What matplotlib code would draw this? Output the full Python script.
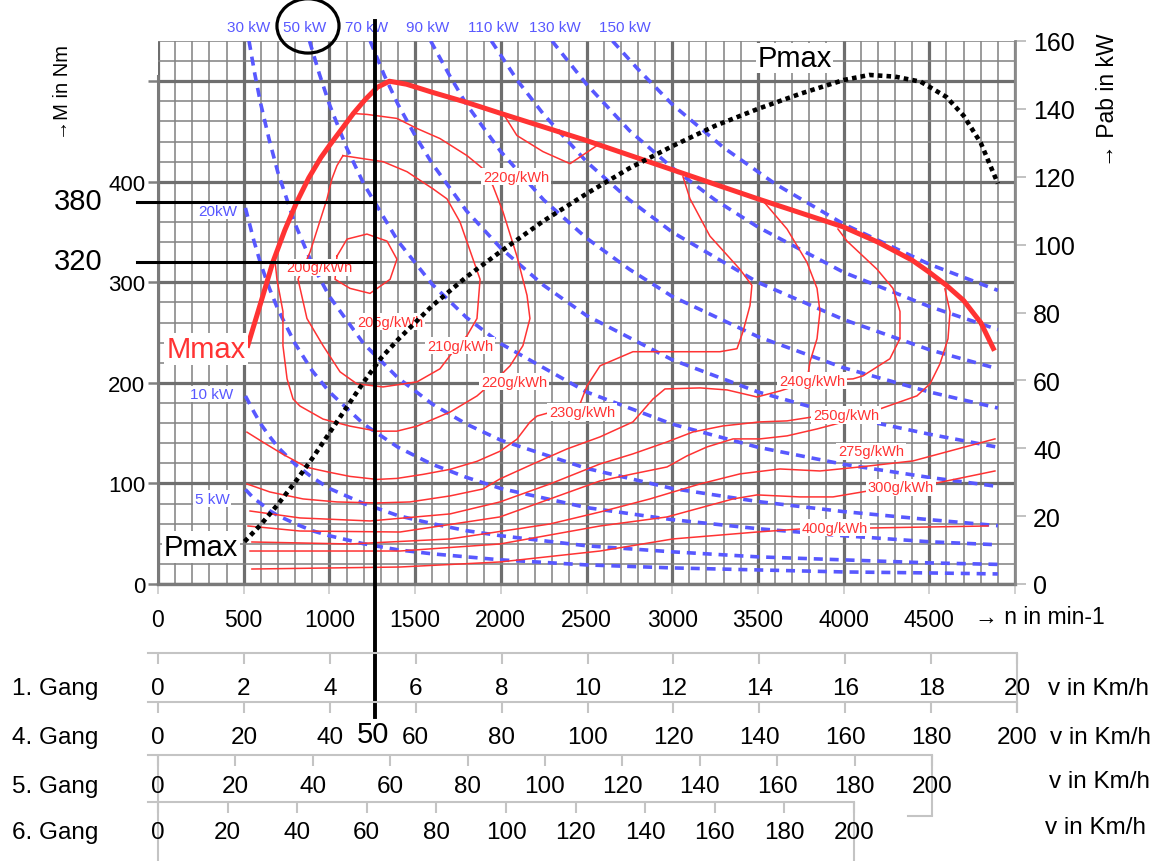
import numpy as np
import matplotlib
matplotlib.use('Agg')
import matplotlib.pyplot as plt
from matplotlib.patches import Ellipse

plt.rcParams['font.family'] = ['Liberation Sans', 'DejaVu Sans']

# ---------------- data ----------------
rpm_ticks = [0, 500, 1000, 1500, 2000, 2500, 3000, 3500, 4000, 4500, 5000]
rpm_labels = ['0', '500', '1000', '1500', '2000', '2500', '3000', '3500', '4000', '4500', '']
torque_ticks = [0, 100, 200, 300, 400, 500]
torque_labels = ['0', '100', '200', '300', '400', '']
power_ticks = [0, 20, 40, 60, 80, 100, 120, 140, 160]

# full load torque curve (Mmax)
mmax_n = [520, 600, 670, 740, 810, 880, 950, 1000, 1070, 1140, 1210, 1280, 1350, 1450, 1600, 1800,
          2000, 2500, 3000, 3500, 4000, 4200, 4400, 4500, 4600, 4700, 4800, 4880]
mmax_M = [235, 280, 320, 352, 380, 404, 424, 436, 452, 468, 482, 494, 500, 497, 489, 479,
          468, 441, 412, 383, 355, 340, 322, 310, 297, 282, 260, 232]

# full load power curve (Pmax, kW)
pmax_n = [505, 600, 700, 800, 900, 1000, 1100, 1200, 1300, 1400, 1600, 1800, 2000, 2250, 2500, 2750,
          3000, 3250, 3500, 3750, 4000, 4150, 4300, 4450, 4600, 4700, 4800, 4900]
pmax_P = [12.5, 17.5, 23.5, 30, 37, 44.5, 52, 59.5, 66.5, 72, 82, 90.5, 98, 107, 115, 122.5,
          129, 135, 140, 144.5, 148.5, 150, 149.5, 148, 143.5, 138, 130, 118]

# constant power lines (kW): rpm / torque points
kw5_n = [510, 560, 600, 650, 700, 800, 900, 1000, 1200, 1400, 1600, 1800, 2000, 2500, 3000, 3500, 4000, 4500, 4900]
kw5_M = [94, 85, 80, 73, 68, 60, 53, 48, 40, 34, 30, 27, 24, 19, 16, 14, 12, 11, 10]
kw10_n = [510, 560, 600, 650, 700, 800, 900, 1000, 1200, 1400, 1600, 1800, 2000, 2500, 3000, 3500, 4000, 4500, 4900]
kw10_M = [187, 171, 159, 147, 136, 119, 106, 95, 80, 68, 60, 53, 48, 38, 32, 27, 24, 21, 19.5]
kw20_n = [510, 560, 600, 650, 700, 800, 900, 1000, 1200, 1400, 1600, 1800, 2000, 2500, 3000, 3500, 4000, 4500, 4900]
kw20_M = [374, 341, 318, 294, 273, 239, 212, 191, 159, 136, 119, 106, 95, 76, 64, 55, 48, 42, 39]
kw30_n = [531, 565, 600, 650, 700, 800, 900, 1000, 1200, 1400, 1600, 1800, 2000, 2500, 3000, 3500, 4000, 4500, 4900]
kw30_M = [540, 507, 477, 441, 409, 358, 318, 286, 239, 205, 179, 159, 143, 115, 95, 82, 72, 64, 58]
kw50_n = [884, 940, 1000, 1100, 1200, 1400, 1600, 1800, 2000, 2500, 3000, 3500, 4000, 4500, 4900]
kw50_M = [540, 508, 477, 434, 398, 341, 298, 265, 239, 191, 159, 136, 119, 106, 97]
kw70_n = [1238, 1320, 1400, 1500, 1600, 1800, 2000, 2250, 2500, 3000, 3500, 4000, 4500, 4900]
kw70_M = [540, 506, 477, 446, 418, 371, 334, 297, 267, 223, 191, 167, 149, 136]
kw90_n = [1591, 1700, 1800, 2000, 2250, 2500, 2750, 3000, 3500, 4000, 4500, 4900]
kw90_M = [540, 506, 477, 430, 382, 344, 313, 286, 246, 215, 191, 175]
kw110_n = [1945, 2100, 2250, 2500, 2750, 3000, 3500, 4000, 4500, 4900]
kw110_M = [540, 500, 467, 420, 382, 350, 300, 263, 233, 214]
kw130_n = [2299, 2500, 2750, 3000, 3250, 3500, 4000, 4500, 4900]
kw130_M = [540, 497, 451, 414, 382, 355, 310, 276, 253]
kw150_n = [2652, 2800, 3000, 3300, 3600, 4000, 4500, 4900]
kw150_M = [540, 512, 477, 434, 398, 358, 318, 292]

kw_top_labels = ['30 kW', '50 kW', '70 kW', '90 kW', '110 kW', '130 kW', '150 kW']
kw_top_n = [531, 858, 1219, 1575, 1954, 2316, 2724]
kw_in_labels = ['20kW', '10 kW', '5 kW']
kw_in_n = [350, 315, 315]
kw_in_M = [371, 189, 85]

# fuel consumption contours (g/kWh): rpm / torque points
be200_n = [1044, 1103, 1219, 1336, 1394, 1354, 1237, 1120, 1033, 1044]
be200_M = [326, 343, 348, 341, 323, 303, 289, 294, 303, 326]
be210_n = [1079, 1313, 1453, 1604, 1686, 1762, 1879, 1861, 1803, 1721, 1645, 1511, 1313, 1161, 1062,
           963, 869, 817, 887, 986, 1015, 1044, 1079]
be210_M = [426, 420, 410, 393, 383, 360, 303, 264, 247, 231, 214, 201, 196, 199, 211,
           237, 264, 303, 330, 383, 403, 416, 426]
be220_n = [683, 694, 729, 729, 753, 788, 828, 963, 1120, 1278, 1394, 1511, 1704, 1861, 1995, 2054,
           2129, 2170, 2153, 2094, 2013, 1954, 1896, 1803, 1645, 1511, 1394, 1219, 1132]
be220_M = [321, 303, 271, 237, 204, 184, 177, 164, 157, 152, 152, 157, 171, 187, 207, 217,
           237, 264, 287, 326, 370, 396, 413, 426, 443, 453, 463, 467, 468]
be220b_n = [2013, 2094, 2246, 2404, 2561]
be220b_M = [468, 446, 430, 418, 436]
be230_n = [3063, 3104, 3220, 3395, 3465, 3454, 3413, 3378, 3279, 2970, 2771, 2579, 2503, 2462, 2211,
           2170, 2094, 1995, 1861, 1704, 1546, 1394, 1278, 1120, 1003, 869, 729, 613, 519]
be230_M = [405, 383, 346, 313, 297, 277, 251, 234, 231, 231, 231, 217, 197, 179, 167,
           161, 144, 132, 122, 114, 109, 105, 104, 107, 111, 116, 129, 141, 151]
be240_n = [519, 653, 846, 1044, 1278, 1470, 1704, 1896, 1995, 2188, 2386, 2579, 2771, 2888, 2958,
           3162, 3320, 3495, 3629, 3815, 4055, 4113, 4270, 4329, 4329, 4288, 4195, 4020, 3967]
be240_M = [99.5, 91.5, 84.6, 81.6, 80.6, 81.6, 87.6, 94.5, 104.5, 119.4, 134.3, 146.3, 161.2, 184, 194,
           195, 193, 186, 192, 202, 204, 207, 224, 244, 271, 294, 313, 341, 353]
be240b_n = [3530, 3670, 3786, 3845, 3862, 3845, 3804, 3792]
be240b_M = [381, 353, 320, 294, 271, 244, 221, 208]
be250_n = [537, 828, 1237, 1704, 1995, 2287, 2579, 2771, 2970, 3121, 3296, 3512, 3670, 3821, 4014,
           4212, 4428, 4504, 4562, 4609, 4621, 4591]
be250_M = [72.6, 65.7, 62.7, 69.7, 81.6, 99.5, 119.4, 129.4, 141.3, 151.2, 157.2, 161.2, 162.2, 166.2, 168,
           174.1, 187.1, 199, 218.9, 243.8, 270.6, 293.5]
be250b_n = [525, 828, 1412, 1995, 2287, 2579, 2771, 2970, 3086, 3203, 3355, 3512, 3670, 3845, 3979]
be250b_M = [57.7, 52.7, 51.7, 66.7, 84.6, 102.5, 109.5, 116.4, 127.4, 136.3, 144.3, 144.3, 147.3, 154.2, 160.2]
be275_n = [548, 1120, 1704, 2287, 2579, 2870, 3162, 3395, 3629, 3862, 4095, 4405, 4621, 4883]
be275_M = [41.8, 39.8, 44.8, 59.7, 71.6, 84.6, 99.5, 109.5, 114.4, 112.4, 116.4, 122.4, 132.3, 144.3]
be300_n = [537, 1412, 1995, 2579, 2970, 3355, 3495, 3745, 3938, 4142, 4335, 4545, 4883]
be300_M = [32.8, 32.8, 39.8, 57.7, 66.7, 84.6, 88.6, 86.6, 86.6, 92.5, 95.5, 100.5, 112.4]
be400_n = [548, 1412, 1995, 2579, 3004, 3495, 3745, 3950, 4154, 4842]
be400_M = [14.9, 16.9, 21.9, 32.8, 44.8, 51.7, 54.7, 55.7, 55.7, 57.7]

be_labels = ['200g/kWh', '205g/kWh', '210g/kWh', '220g/kWh', '220g/kWh', '230g/kWh',
             '240g/kWh', '250g/kWh', '275g/kWh', '300g/kWh', '400g/kWh']
be_label_n = [939, 1353, 1762, 2089, 2077, 2474, 3815, 4014, 4160, 4335, 3950]
be_label_M = [315, 261, 237, 405, 201, 171, 202, 168, 132, 96, 56]

# reading example: 50 km/h in 4th gear
n_50 = 1266
m_lines = [380, 320]

gear_names = ['1. Gang', '4. Gang', '5. Gang', '6. Gang']
gear1_ticks = [0, 2, 4, 6, 8, 10, 12, 14, 16, 18, 20]
gear4_ticks = [0, 20, 40, 60, 80, 100, 120, 140, 160, 180, 200]
gear5_ticks = [0, 20, 40, 60, 80, 100, 120, 140, 160, 180, 200]
gear6_ticks = [0, 20, 40, 60, 80, 100, 120, 140, 160, 180, 200]

# ---------------- figure ----------------
W, H = 1165, 862
fig = plt.figure(figsize=(W / 100, H / 100), dpi=100)


def box(x0, y0, x1, y1):
    return [x0 / W, 1 - y1 / H, (x1 - x0) / W, (y1 - y0) / H]


RED = '#ff3333'
BLUE = '#5858ff'
GRIDMIN = '#858585'
GRIDMAJ = '#6e6e6e'

ax = fig.add_axes(box(158, 42, 1015, 585))
ax.set_xlim(0, 5000)
ax.set_ylim(0, 540)
ax.set_xticks(rpm_ticks)
ax.set_xticklabels(rpm_labels, fontsize=16.5)
ax.set_xticks(np.arange(0, 5001, 100), minor=True)
ax.set_yticks(torque_ticks)
ax.set_yticklabels(torque_labels, fontsize=16)
ax.set_yticks(np.arange(0, 541, 20), minor=True)
ax.grid(which='minor', color=GRIDMIN, lw=1.15)
ax.grid(which='major', color=GRIDMAJ, lw=2.3)
ax.set_axisbelow(True)
ax.tick_params(axis='x', which='major', length=7, width=1.2, color='#c8c8c8', pad=10)
ax.tick_params(axis='y', which='major', length=7, width=1.8, color='#808080', pad=2)
ax.tick_params(which='minor', length=0)
for s in ['top', 'right']:
    ax.spines[s].set_visible(False)
ax.spines['left'].set_color('#7a7a7a')
ax.spines['left'].set_linewidth(2.2)
ax.spines['left'].set_bounds(0, 505)
ax.spines['bottom'].set_color('#7a7a7a')
ax.spines['bottom'].set_linewidth(2.4)

ax2 = ax.twinx()
ax2.set_ylim(0, 160)
ax2.set_yticks(power_ticks)
ax2.set_yticklabels([str(v) for v in power_ticks], fontsize=18)
ax2.tick_params(axis='y', length=8, width=1.2, color='#b8b8b8', pad=5)
for s in ['top', 'left', 'bottom']:
    ax2.spines[s].set_visible(False)
ax2.spines['right'].set_color('#8a8a8a')
ax2.spines['right'].set_linewidth(2.0)

# constant power lines
dash = (0, (2.5, 1.9))
for nn, mm in [(kw5_n, kw5_M), (kw10_n, kw10_M), (kw20_n, kw20_M), (kw30_n, kw30_M),
               (kw50_n, kw50_M), (kw70_n, kw70_M), (kw90_n, kw90_M), (kw110_n, kw110_M),
               (kw130_n, kw130_M), (kw150_n, kw150_M)]:
    ax.plot(nn, mm, color=BLUE, lw=2.6, linestyle=dash, zorder=3)

# fuel consumption contours
for nn, mm in [(be200_n, be200_M), (be210_n, be210_M), (be220_n, be220_M),
               (be220b_n, be220b_M), (be230_n, be230_M), (be240_n, be240_M), (be240b_n, be240b_M),
               (be250_n, be250_M), (be250b_n, be250b_M), (be275_n, be275_M), (be300_n, be300_M),
               (be400_n, be400_M)]:
    ax.plot(nn, mm, color=RED, lw=1.1, zorder=4)

# full load torque
ax.plot(mmax_n, mmax_M, color=RED, lw=3.6, solid_capstyle='butt', solid_joinstyle='round', zorder=5)
# full load power (right axis)
ax2.plot(pmax_n, pmax_P, color='black', lw=3.3, linestyle=(0, (1.0, 0.9)), zorder=6)

# labels
lab_kw = dict(fontsize=10.5, color=RED, ha='center', va='center', zorder=8,
              bbox=dict(facecolor='white', edgecolor='none', pad=1.2))
for t, nn, mm in zip(be_labels, be_label_n, be_label_M):
    ax.text(nn, mm, t, **lab_kw)

# reading lines (on top of labels)
ax.plot([n_50, n_50], [-132, 560], color='black', lw=2.8, clip_on=False, zorder=10)
for m in m_lines:
    ax.plot([-122, n_50], [m, m], color='black', lw=2.2, clip_on=False, zorder=10)
    ax.text(-465, m + 1, str(m), fontsize=21, ha='center', va='center', zorder=10)

for t, nn in zip(kw_top_labels, kw_top_n):
    ax.text(nn, 554, t, fontsize=11, color=BLUE, ha='center', va='center', clip_on=False)
for t, nn, mm in zip(kw_in_labels, kw_in_n, kw_in_M):
    ax.text(nn, mm, t, fontsize=11, color=BLUE, ha='center', va='center', zorder=9,
            bbox=dict(facecolor='white', edgecolor='none', pad=1.0))

ax.text(280, 234, 'Mmax', fontsize=21, color=RED, ha='center', va='center', zorder=9,
        bbox=dict(facecolor='white', edgecolor='none', pad=1.5))
ax2.text(250, 11, 'Pmax', fontsize=21, color='black', ha='center', va='center', zorder=9,
         bbox=dict(facecolor='white', edgecolor='none', pad=1.5))
ax2.text(3715, 155, 'Pmax', fontsize=21, color='black', ha='center', va='center', zorder=9,
         bbox=dict(facecolor='white', edgecolor='none', pad=1.0))

ax.add_patch(Ellipse((875, 555), 362, 54, fill=False, edgecolor='black', lw=2.3,
                     clip_on=False, zorder=9))

fig.text(1108 / W, 1 - 100 / H, '\u2192 Pab in kW', fontsize=16.5, rotation=90,
         ha='center', va='center')
fig.text(63 / W, 1 - 92 / H, '\u2192M in Nm', fontsize=14.5, rotation=90,
         ha='center', va='center')
fig.text(975 / W, 1 - 618 / H, '\u2192 n in min-1', fontsize=16.5, ha='left', va='center')

# ---------------- speed scales ----------------
SC = '#c4c4c4'


def speed_scale(line_y, x_end, ticks, lab_y, name, vlab_x, vlab_y):
    vmax = ticks[-1]
    a = fig.add_axes(box(148, line_y, x_end, line_y + 60))
    a.set_xlim(-vmax * (158 - 148) / (x_end - 158), vmax)
    a.set_ylim(60, 0)
    a.axis('off')
    a.plot(a.get_xlim(), [0, 0], color=SC, lw=1.5, clip_on=False)
    a.vlines(ticks, 0, 11, color=SC, lw=1.5, clip_on=False)
    for v in ticks:
        a.text(v, lab_y - line_y, str(v), fontsize=17.5, ha='center', va='center')
    fig.text(12 / W, 1 - lab_y / H, name, fontsize=17.5, ha='left', va='center')
    fig.text(vlab_x / W, 1 - vlab_y / H, 'v in Km/h', fontsize=17.5, ha='left', va='center')
    return a


a1 = speed_scale(654, 1017, gear1_ticks, 689, gear_names[0], 1048, 689)
a1.vlines([gear1_ticks[-1]], 0, 60, color=SC, lw=1.5, clip_on=False)
a4 = speed_scale(703, 1017, gear4_ticks, 738, gear_names[1], 1050, 738)
a5 = speed_scale(756, 932, gear5_ticks, 787, gear_names[2], 1049, 782)
a5.vlines([gear5_ticks[-1]], 0, 61, color=SC, lw=1.5, clip_on=False)
a5.plot([193.8, 200], [61, 61], color=SC, lw=1.5, clip_on=False)
a5.vlines([0], 0, 106, color=SC, lw=1.5, clip_on=False)
a6 = speed_scale(803, 854, gear6_ticks, 833, gear_names[3], 1045, 828)
a6.vlines([gear6_ticks[-1]], 0, 59, color=SC, lw=1.5, clip_on=False)

fig.text(373 / W, 1 - 735 / H, '50', fontsize=21, ha='center', va='center')

fig.savefig('out.png', dpi=100)
